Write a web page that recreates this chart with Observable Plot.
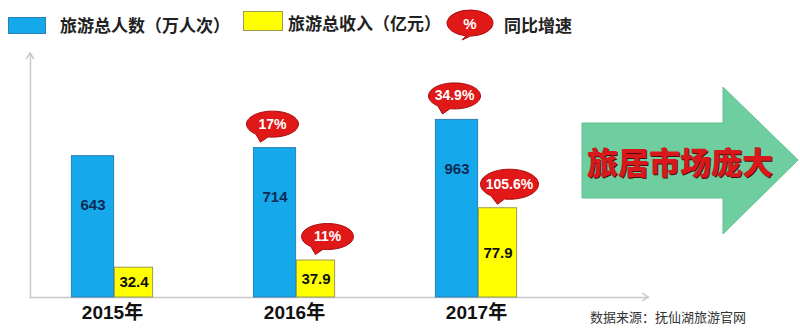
<!DOCTYPE html>
<html><head><meta charset="utf-8">
<script src="https://cdn.jsdelivr.net/npm/d3@7"></script>
<script src="https://cdn.jsdelivr.net/npm/@observablehq/plot@0.6"></script>
<style>
body{margin:0;background:#fff;}
#wrap{position:relative;width:800px;height:335px;overflow:hidden;background:#fff;}
#legend{position:relative;height:45px;width:800px;}
.lg{position:absolute;font-family:"Noto Sans CJK SC",sans-serif;font-weight:700;font-size:17px;color:#222;line-height:17px;white-space:nowrap;}
.sw{position:absolute;box-sizing:border-box;}
#chart{position:absolute;left:0;top:45px;width:800px;height:290px;}
#caption{position:absolute;left:590px;top:309px;font-family:"Noto Sans CJK SC",sans-serif;font-size:13px;color:#333;line-height:16px;white-space:nowrap;}
#deco{position:absolute;left:0;top:0;pointer-events:none;}
</style></head>
<body>
<div id="wrap">
  <div id="legend">
    <div class="sw" style="left:8px;top:17px;width:38px;height:17px;background:#15a9ec;border:1px solid #2b7fb5;"></div>
    <div class="lg" style="left:60px;top:16px;">旅游总人数（万人次）</div>
    <div class="sw" style="left:243px;top:11px;width:40px;height:20px;background:#ffff00;border:1px solid #9a9a50;"></div>
    <div class="lg" style="left:288px;top:14px;">旅游总收入（亿元）</div>
    <svg style="position:absolute;left:445px;top:8px;" width="52" height="36">
      <path d="M48,15 A23,13 0 1 0 21,27.8 L17,32 L25.5,28 A23,13 0 0 0 48,15 Z" fill="#e01818" stroke="#a80c0c" stroke-width="1"/>
      <text x="25" y="15" text-anchor="middle" dominant-baseline="central" fill="#fff" font-family="Liberation Sans, Arial, sans-serif" font-weight="bold" font-size="15">%</text>
    </svg>
    <div class="lg" style="left:504px;top:16px;">同比增速</div>
  </div>
  <div id="chart"></div>
  <div id="caption">数据来源：抚仙湖旅游官网</div>
  <svg id="deco" width="800" height="335">
    <polygon points="582,123 723,123 723,87 798,160 723,234 723,198 582,198" fill="#6fcea0" stroke="#5fbf90" stroke-width="1"/>
    <text x="681" y="161.5" text-anchor="middle" dominant-baseline="central" font-family="Noto Sans CJK SC, sans-serif" font-weight="900" font-size="31" fill="#4a0d0d">旅居市场庞大</text>
    <text x="680" y="160" text-anchor="middle" dominant-baseline="central" font-family="Noto Sans CJK SC, sans-serif" font-weight="900" font-size="31" fill="#d9181b">旅居市场庞大</text>
  </svg>
</div>
<script>
// ---- data ----
const years = ["2015年", "2016年", "2017年"];
const visitors = [643, 714, 963];        // 旅游总人数（万人次）
const income = [32.4, 37.9, 77.9];       // 旅游总收入（亿元）
const visitorGrowth = [null, 17, 34.9];  // 同比增速 shown above blue bars
const incomeGrowth = [null, 11, 105.6];  // 同比增速 shown above yellow bars

const rows = years.map((year, i) => ({
  year, visitors: visitors[i], income: income[i],
  vg: visitorGrowth[i], ig: incomeGrowth[i]
}));

// ---- layout / scales (the original graphic is not drawn to a zero baseline) ----
const W = 800, H = 290, mL = 30, mR = 152, mT = 8, mB = 38;
const blueDomain = [-604, 1549];
const yellowDomain = [9.6, 196.3];
const xScale = {domain: years, range: [21.5, 570], padding: 0, axis: null};
const fontFam = "'Liberation Sans', Arial, 'Noto Sans CJK SC', sans-serif";

function bubble(rx, ry) {
  return {
    draw(ctx) {
      const pt = a => [rx * Math.cos(a * Math.PI / 180), ry * Math.sin(a * Math.PI / 180)];
      const [x0, y0] = pt(0);
      ctx.moveTo(x0, y0);
      for (let a = 5; a < 360; a += 5) {
        if (a > 100 && a < 130) {
          if (a === 105) ctx.lineTo(-12, ry + 5);
          continue;
        }
        const [x, y] = pt(a);
        ctx.lineTo(x, y);
      }
      ctx.closePath();
    }
  };
}
const smallBubble = bubble(26, 13);
const bigBubble = bubble(29, 15);
const pct = v => `${v}%`;

// Plot A: axes, blue bars, year labels
const plotA = Plot.plot({
  width: W, height: H,
  marginLeft: mL, marginRight: mR, marginTop: mT, marginBottom: mB,
  style: `font-family:${fontFam};background:white;`,
  x: xScale,
  y: {domain: blueDomain, axis: null},
  marks: [
    Plot.frame({anchor: "left", stroke: "#c8c8c8", strokeWidth: 1.5}),
    Plot.frame({anchor: "bottom", stroke: "#c8c8c8", strokeWidth: 1.5}),
    Plot.barY(rows, {
      x: "year", y1: () => blueDomain[0], y2: "visitors",
      insetLeft: 48.4, insetRight: 91.4,
      fill: "#15a9ec", stroke: "#2b7fb5", strokeWidth: 1
    }),
    Plot.text(rows, {
      x: "year", y: "visitors", text: d => String(d.visitors),
      dx: -21.5, dy: 49, fill: "#0d2a55", fontWeight: "bold", fontSize: 15
    }),
    Plot.dot(rows.filter(d => d.vg != null), {
      x: "year", y: "visitors", dx: -24, dy: -24,
      symbol: smallBubble, fill: "#e01818", stroke: "#a80c0c", strokeWidth: 1
    }),
    Plot.text(rows.filter(d => d.vg != null), {
      x: "year", y: "visitors", text: d => pct(d.vg), dx: -24, dy: -24,
      fill: "white", fontWeight: "bold", fontSize: 14
    }),
    Plot.text(rows, {
      x: "year", frameAnchor: "bottom", text: "year", dx: -2, dy: 21,
      fontSize: 19, fontWeight: "bold", fill: "#111"
    })
  ]
});

// Plot B: yellow bars on their own scale, overlaid
const plotB = Plot.plot({
  width: W, height: H,
  marginLeft: mL, marginRight: mR, marginTop: mT, marginBottom: mB,
  style: `font-family:${fontFam};background:transparent;position:absolute;left:0;top:0;`,
  x: xScale,
  y: {domain: yellowDomain, axis: null},
  marks: [
    Plot.barY(rows, {
      x: "year", y1: () => yellowDomain[0], y2: "income",
      insetLeft: 91.4, insetRight: 52.4,
      fill: "#ffff00", stroke: "#9a9a50", strokeWidth: 1
    }),
    Plot.text(rows, {
      x: "year", y: d => (d.income + yellowDomain[0]) / 2, text: d => d.income.toFixed(1),
      dx: 19.5, fill: "#111", fontWeight: "bold", fontSize: 15
    }),
    Plot.dot(rows.filter(d => d.ig != null && pct(d.ig).length <= 5), {
      x: "year", y: "income", dx: 31, dy: -24,
      symbol: smallBubble, fill: "#e01818", stroke: "#a80c0c", strokeWidth: 1
    }),
    Plot.dot(rows.filter(d => d.ig != null && pct(d.ig).length > 5), {
      x: "year", y: "income", dx: 31, dy: -24,
      symbol: bigBubble, fill: "#e01818", stroke: "#a80c0c", strokeWidth: 1
    }),
    Plot.text(rows.filter(d => d.ig != null), {
      x: "year", y: "income", text: d => pct(d.ig), dx: 31, dy: -24,
      fill: "white", fontWeight: "bold", fontSize: 14
    })
  ]
});

// arrowheads on the two axis lines
d3.select(plotA).append("path")
  .attr("d", `M${mL - 4},${mT + 6}L${mL},${mT}L${mL + 4},${mT + 6}M${W - mR - 6},${H - mB - 4}L${W - mR},${H - mB}L${W - mR - 6},${H - mB + 4}`)
  .attr("fill", "none").attr("stroke", "#c8c8c8").attr("stroke-width", 1.5);

const chart = document.getElementById("chart");
chart.appendChild(plotA);
chart.appendChild(plotB);
</script>
</body></html>
